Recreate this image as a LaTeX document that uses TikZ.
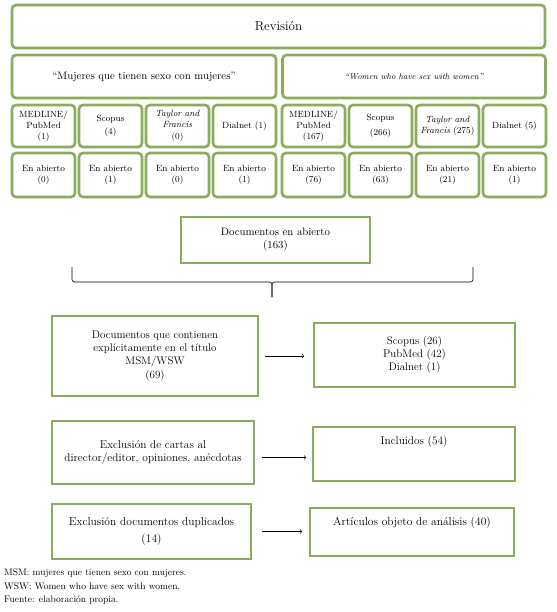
\documentclass[tikz,border=0pt]{standalone}
\usetikzlibrary{shadows}
\definecolor{olivegreen}{RGB}{139,172,90}
\newcommand{\fsz}[1]{\fontsize{#1}{1.2\dimexpr#1pt\relax}\selectfont}

\begin{document}
\begin{tikzpicture}
  [x=1pt,y=-1pt,
   rbox/.style={draw=olivegreen,line width=2.6pt,rounded corners=4pt,fill=white,
     drop shadow={opacity=.25,shadow xshift=.8pt,shadow yshift=-1.2pt},
     align=center,inner sep=1pt},
   sbox/.style={draw=olivegreen,line width=1.8pt,fill=white,align=center,inner sep=2pt},
   cell/.style={rbox,minimum width=63pt,minimum height=42pt,font=\fsz{9}}]
  \useasboundingbox (0,0) rectangle (556,612);
  \node[rbox,minimum width=533pt,minimum height=43pt,font=\fsz{13}] (rev) at (278.5,26.5) {Revisión};
  \node[rbox,minimum width=264pt,minimum height=43pt,font=\fsz{10.8}] (qm) at (144,76.5) {``Mujeres que tienen sexo con mujeres''};
  \node[rbox,minimum width=263pt,minimum height=43pt,font=\fsz{8.5}\itshape] (qw) at (414,76.5) {``Women who have sex with women''};
  % bases de datos
  \node[cell] (m1) at (43.5,126)  {MEDLINE/\\PubMed\\(1)};
  \node[cell] (m2) at (110.5,126) {Scopus\\[3pt](4)};
  \node[cell] (m3) at (177.5,126) {\textit{Taylor and}\\\textit{Francis}\\[2pt](0)};
  \node[cell] (m4) at (244.5,126) {Dialnet (1)};
  \node[cell] (w1) at (313.5,126) {MEDLINE/\\PubMed\\(167)};
  \node[cell] (w2) at (380.5,126) {Scopus\\[4pt](266)};
  \node[cell] (w3) at (447.5,126) {\textit{Taylor and}\\\textit{Francis} (275)};
  \node[cell] (w4) at (514.5,126) {Dialnet (5)};
  % en abierto
  \foreach \n/\x/\c in {am1/43.5/0,am2/110.5/1,am3/177.5/0,am4/244.5/1,aw1/313.5/76,aw2/380.5/63,aw3/447.5/21,aw4/514.5/1}
    \node[cell,minimum height=44pt] (\n) at (\x,175) {En abierto\\(\c)};
  \node[sbox,minimum width=189pt,minimum height=46pt,font=\fsz{10.8}] (docs) at (275.5,240) {Documentos en abierto\\(163)};
  % llave
  \coordinate (bl) at (72,267);
  \coordinate (br) at (473,267);
  \coordinate (bm) at (272,282);
  \coordinate (tip) at (272,297);
  \draw[rounded corners=2.5pt,line width=.6pt] (bl) |- (bm) -- (tip);
  \draw[rounded corners=2.5pt,line width=.6pt] (br) |- (bm) -- (tip);
  % cribado
  \node[sbox,minimum width=206pt,minimum height=80pt,font=\fsz{11}] (t1) at (155,356) {Documentos que contienen\\explícitamente en el título\\MSM/WSW\\(69)};
  \node[sbox,minimum width=201pt,minimum height=64pt,font=\fsz{11}] (t2) at (414.5,355) {Scopus (26)\\PubMed (42)\\Dialnet (1)};
  \node[sbox,minimum width=202pt,minimum height=63pt,font=\fsz{11.3}] (e1) at (153,452.5) {Exclusión de cartas al\\director/editor, opiniones, anécdotas};
  \node[sbox,minimum width=202pt,minimum height=54pt,font=\fsz{11.3}] (e2) at (414,454) {Incluidos (54)\\[14pt]};
  \node[sbox,minimum width=199pt,minimum height=55pt,font=\fsz{11.5}] (d1) at (151.5,531.5) {Exclusión documentos duplicados\\[3pt](14)};
  \node[sbox,minimum width=204pt,minimum height=48pt,font=\fsz{11.5}] (d2) at (412,532) {Artículos objeto de análisis (40)\\[8pt]};
  \draw[->,line width=.6pt,shorten <=6pt,shorten >=9pt] (t1) -- (t1 -| t2.west);
  \draw[->,line width=.6pt,shorten <=7pt,shorten >=6pt] ([yshift=-5pt]e1.east) -- ([yshift=-5pt]e1.east -| e2.west);
  \draw[->,line width=.6pt,shorten <=10pt,shorten >=7pt] (d1) -- (d1 -| d2.west);
  \node[anchor=north west,align=left,inner sep=0pt,font=\fsz{9.5}] (nota) at (4,569)
    {MSM: mujeres que tienen sexo con mujeres.\\[2pt]WSW: Women who have sex with women.\\[2pt]Fuente: elaboración propia.};
\end{tikzpicture}
\end{document}
